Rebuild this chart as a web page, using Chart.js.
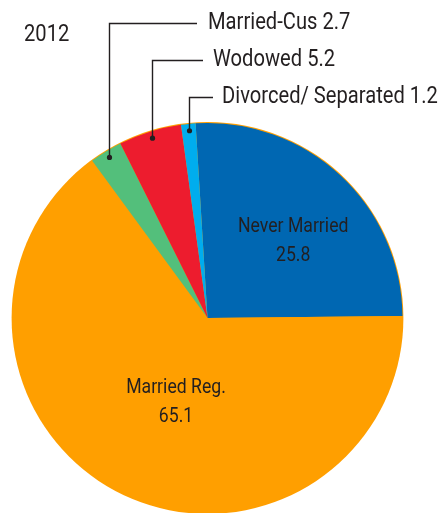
<!DOCTYPE html>
<html>
<head>
<meta charset="utf-8">
<script src="https://cdn.jsdelivr.net/npm/chart.js@4"></script>
<style>
html,body{margin:0;padding:0;background:#fff;}
#wrap{position:relative;width:443px;height:513px;}
</style>
</head>
<body>
<div id="wrap"><canvas id="c" width="443" height="513"></canvas></div>
<script>
const title = '2012';
const categories = ['Never Married', 'Married Reg.', 'Married-Cus', 'Wodowed', 'Divorced/ Separated'];
const values = [25.8, 65.1, 2.7, 5.2, 1.2];
const colors = ['#0067B2', '#FF9F00', '#53BF7B', '#ED1C2E', '#00ADEE'];

const FONT = "Roboto, 'Liberation Sans', sans-serif";
const TEXT = '#231F20';
const CONDENSE = 0.84; // horizontal squeeze to mimic a condensed face

// layout of callout labels (outside slices 2,3,4)
const callouts = {
  2: {y: 23, lineEnd: 197, textX: 208},
  3: {y: 60, lineEnd: 203, textX: 213},
  4: {y: 97, lineEnd: 213, textX: 222}
};
// inside labels: radius fraction + angular nudge (deg)
const inside = {
  0: {f: 0.59, nudge: 5.2},
  1: {f: 0.46, nudge: -6}
};

function drawText(ctx, text, x, y, size, align) {
  ctx.save();
  ctx.font = size + 'px ' + FONT;
  ctx.textBaseline = 'middle';
  ctx.textAlign = align;
  ctx.fillStyle = TEXT;
  ctx.translate(x, y);
  ctx.scale(CONDENSE, 1);
  ctx.fillText(text, 0, 0);
  ctx.restore();
}

const labelPlugin = {
  id: 'labels',
  beforeDatasetsDraw(chart) {
    const meta = chart.getDatasetMeta(0);
    const a = meta.data[0];
    const ctx = chart.ctx;
    ctx.save();
    ctx.beginPath();
    ctx.arc(a.x, a.y, a.outerRadius + 0.9, 0, Math.PI * 2);
    ctx.fillStyle = '#FF9F00';
    ctx.fill();
    ctx.restore();
  },
  afterDatasetsDraw(chart) {
    const ctx = chart.ctx;
    const meta = chart.getDatasetMeta(0);
    drawText(ctx, title, 24, 35, 24, 'left');

    meta.data.forEach((arc, i) => {
      const mid = (arc.startAngle + arc.endAngle) / 2;
      if (callouts[i]) {
        const c = callouts[i];
        const r = arc.outerRadius * 0.965;
        const px = Math.round(arc.x + Math.cos(mid) * r) + 0.5;
        const py = arc.y + Math.sin(mid) * r;
        ctx.save();
        ctx.strokeStyle = '#231F20';
        ctx.lineWidth = 1.4;
        ctx.beginPath();
        ctx.moveTo(px, py);
        ctx.lineTo(px, c.y + 0.5);
        ctx.lineTo(c.lineEnd, c.y + 0.5);
        ctx.stroke();
        ctx.beginPath();
        ctx.arc(px, py, 2.6, 0, Math.PI * 2);
        ctx.fillStyle = '#231F20';
        ctx.fill();
        ctx.restore();
        drawText(ctx, categories[i] + ' ' + values[i], c.textX, c.y, 24, 'left');
      } else if (inside[i]) {
        const s = inside[i];
        const ang = mid + s.nudge * Math.PI / 180;
        const r = arc.outerRadius * s.f;
        const x = arc.x + Math.cos(ang) * r;
        const y = arc.y + Math.sin(ang) * r;
        drawText(ctx, categories[i], x, y - 14.5, 21, 'center');
        drawText(ctx, String(values[i]), x, y + 14.5, 21, 'center');
      }
    });
  }
};

new Chart(document.getElementById('c'), {
  type: 'pie',
  data: {
    labels: categories,
    datasets: [{
      data: values,
      backgroundColor: colors,
      borderWidth: 0
    }]
  },
  options: {
    responsive: false,
    animation: false,
    rotation: -3.5,
    layout: {padding: {left: 12, right: 40, top: 123, bottom: 0}},
    plugins: {legend: {display: false}, tooltip: {enabled: false}}
  },
  plugins: [labelPlugin]
});
</script>
</body>
</html>
